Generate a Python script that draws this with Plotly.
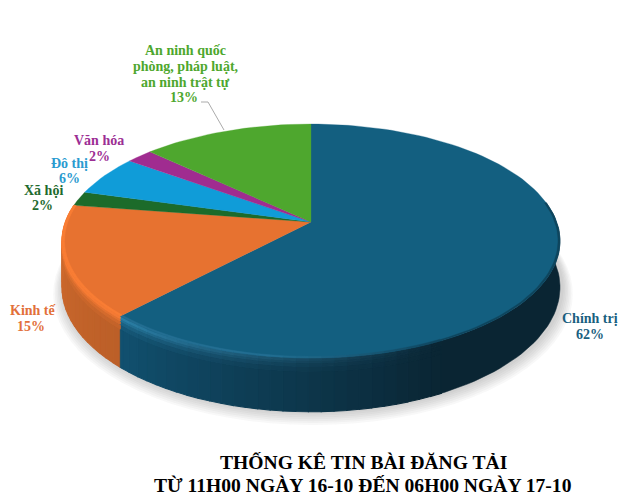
import math
import plotly.graph_objects as go

# ---- data ----
categories = ["Chính trị", "Kinh tế", "Xã hội", "Đô thị", "Văn hóa", "An ninh quốc phòng, pháp luật, an ninh trật tự"]
values = [62.0, 15.4, 2.0, 5.6, 2.0, 13.0]
top_colors = ["#135F80", "#E77230", "#1C6B2A", "#109CD8", "#A02C90", "#4EA72E"]
label_colors = ["#1A5F80", "#E2703A", "#1E6B2E", "#2A9BD0", "#9C2E94", "#4EA72E"]
label_lines = [["Chính trị"], ["Kinh tế"], ["Xã hội"], ["Đô thị"], ["Văn hóa"],
               ["An ninh quốc", "phòng, pháp luật,", "an ninh trật tự"]]
title_lines = ["THỐNG KÊ TIN BÀI ĐĂNG TẢI", "TỪ 11H00 NGÀY 16-10 ĐẾN 06H00 NGÀY 17-10"]

# ---- projection of the pie disc (perspective circle) ----
CX, CY, RX, RY, K, DEPTH = 311.0, 222.0, 245.7, 113.9, 0.1625, 45.0
DARK = "#0A2533"
DARK_FROM = 153.0


def pt(deg, r=1.0, d=0.0, sx=0.0, sy=0.0):
    a = math.radians(deg)
    w = 1.0 / (1.0 + K * r * math.cos(a))
    return (CX + RX * r * math.sin(a) * w + sx, CY - RY * r * math.cos(a) * w + d * w + sy)


def mix(c1, c2, t):
    a = [int(c1[i:i + 2], 16) for i in (1, 3, 5)]
    b = [int(c2[i:i + 2], 16) for i in (1, 3, 5)]
    return "#" + "".join(f"{round(x + (y - x) * t):02x}" for x, y in zip(a, b))


def poly(fig, pts, color, lw=0.6):
    xs = [p[0] for p in pts] + [pts[0][0]]
    ys = [p[1] for p in pts] + [pts[0][1]]
    fig.add_trace(go.Scatter(x=xs, y=ys, mode="lines", fill="toself", fillcolor=color,
                             line=dict(color=color, width=lw), hoverinfo="skip", showlegend=False))


total = sum(values)
edges = [0.0]
for v in values:
    edges.append(edges[-1] + v / total * 360.0)

fig = go.Figure()

# soft shadow under the pie
for i in range(7, 0, -1):
    ring = [pt(t, 1.0 + i * 0.006, DEPTH + i * 0.7, sx=2.0) for t in range(0, 361, 4)]
    poly(fig, ring, "rgba(60,60,60,0.035)", lw=0)


def side_colors(theta):
    """(side colour, rim colour) at a rim angle on the front of the pie."""
    if theta < edges[1]:
        t = max(0.0, min(1.0, (edges[1] - theta) / (edges[1] - DARK_FROM)))
        side = mix("#11506F", DARK, t)
        rim = mix("#2B80A8", DARK, t)
    else:
        t = max(0.0, min(1.0, (theta - edges[1]) / (edges[2] - edges[1])))
        side = mix("#BC5F28", "#D26C2E", t)
        rim = mix("#F47A34", "#FF8136", t)
    return side, rim


# dark right-hand part of the side wall, one smooth piece
arc_up = [80 + (DARK_FROM + 1 - 80) * j / 40 for j in range(41)]
poly(fig, [pt(t, 1, 0) for t in arc_up] + [pt(t, 1, DEPTH) for t in reversed(arc_up)], DARK, lw=0.5)

# lit part of the side wall, small facets with a highlight near the rim
bands = [(0, 2, 0.0), (2, 4, 0.3), (4, 7, 0.6), (7, 11, 0.85), (11, DEPTH, 1.0)]
breaks = sorted(set([DARK_FROM + 2.5 * i for i in range(51)] + [edges[1], edges[2]]))
for d0, d1, f in reversed(bands):
    for t0, t1 in zip(breaks[:-1], breaks[1:]):
        if t1 > edges[2] + 0.01:
            continue
        side, rim = side_colors((t0 + t1) / 2)
        poly(fig, [pt(t0, 1, d0), pt(t1, 1, d0), pt(t1, 1, d1), pt(t0, 1, d1)], mix(rim, side, f), lw=1.1)

# sharp edge between the two visible side colours
side, rim = side_colors(edges[1] - 0.5)
poly(fig, [pt(edges[1] - 1.0, 1, 12), pt(edges[1], 1, 12), pt(edges[1], 1, DEPTH), pt(edges[1] - 1.0, 1, DEPTH)], side, lw=0.5)

# top surface wedges
for i, c in enumerate(top_colors):
    n = max(2, int((edges[i + 1] - edges[i]) / 2))
    arc = [pt(edges[i] + (edges[i + 1] - edges[i]) * j / n) for j in range(n + 1)]
    poly(fig, [(CX, CY)] + arc, c, lw=0.3)

# soft transition on the dark rim of the top surface
arc_soft = [80 + (DARK_FROM - 80) * j / 40 for j in range(41)]
poly(fig, [pt(t, 0.992) for t in arc_soft] + [pt(t, 1.0) for t in reversed(arc_soft)],
     mix(top_colors[0], DARK, 0.45), lw=0.3)

# lip along the front-left rim of the top surface
lip_breaks = [b for b in breaks if b >= DARK_FROM]
for t0, t1 in zip(lip_breaks[:-1], lip_breaks[1:]):
    tm = (t0 + t1) / 2
    if tm > edges[2]:
        continue
    if tm < edges[1]:
        color = mix(mix(top_colors[0], DARK, 0.45), "#2B80A8", max(0.0, min(1.0, (tm - DARK_FROM) / 35.0)) * 0.7)
    else:
        color = mix(top_colors[1], "#FF8136", 0.75)
    poly(fig, [pt(t0, 0.99), pt(t1, 0.99), pt(t1, 1), pt(t0, 1)], color, lw=0.4)

# text
ann = []


def text(s, x, y, color, size):
    ann.append(dict(text=f"<b>{s}</b>", x=x, y=y, xref="x", yref="y", showarrow=False,
                    xanchor="center", yanchor="middle",
                    font=dict(family="Liberation Serif", size=size, color=color)))


label_pos = [
    [(590, 318), (590, 334)],
    [(33, 310), (31, 326)],
    [(43, 190), (42, 205)],
    [(69, 163), (69, 178)],
    [(99, 140), (99, 156)],
    [(185, 50), (185, 66), (185, 82), (184, 97)],
]
for i, lines in enumerate(label_lines):
    all_lines = lines + [f"{round(values[i])}%"]
    for s, (x, y) in zip(all_lines, label_pos[i]):
        text(s, x, y, label_colors[i], 14)

text(title_lines[0], 363, 462, "#000000", 19.6)
text(title_lines[1], 363, 485, "#000000", 19.6)

fig.update_layout(
    width=632, height=500, autosize=False,
    margin=dict(l=0, r=0, t=0, b=0),
    paper_bgcolor="#ffffff", plot_bgcolor="#ffffff",
    showlegend=False,
    xaxis=dict(range=[0, 632], visible=False, fixedrange=True),
    yaxis=dict(range=[500, 0], visible=False, fixedrange=True),
    annotations=ann,
    shapes=[dict(type="path", path="M 201 102 L 208 102 L 224 130", xref="x", yref="y",
                 line=dict(color="#ABABAB", width=1))],
)
fig.write_html("out.html", config={"displayModeBar": False},
               post_script="document.body.style.margin='0';document.body.style.overflow='hidden';")
